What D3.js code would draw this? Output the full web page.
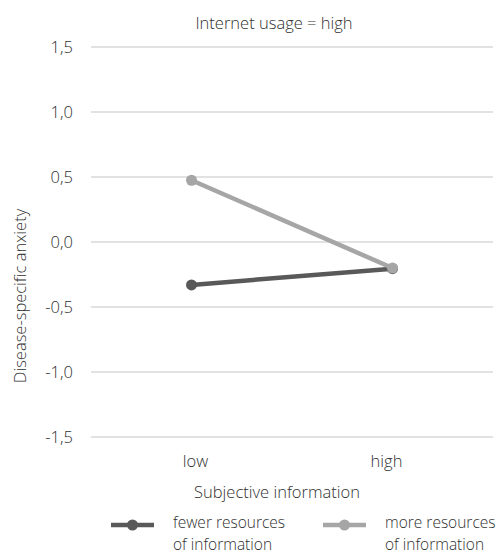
<!DOCTYPE html>
<html><head><meta charset="utf-8">
<script src="https://cdn.jsdelivr.net/npm/d3@7"></script>
<style>body{margin:0;background:#fff}text{font-family:"Open Sans",sans-serif;font-weight:300;fill:#303030}</style>
</head><body><svg id="c" width="504" height="556"></svg>
<script>
const categories = ["low","high"];
const seriesNames = ["fewer resources of information","more resources of information"];
const fewerValues = [-0.33,-0.205];
const moreValues = [0.475,-0.2];
const yTicks = [-1.5,-1.0,-0.5,0.0,0.5,1.0,1.5];
const colors = ["#595959","#a6a6a6"];

const svg = d3.select("#c");
const L=91,R=493,T=47,B=437;
const FS=16.5;
const x = d3.scalePoint().domain(categories).range([L,R]).padding(0.5);
const y = d3.scaleLinear().domain([-1.5,1.5]).range([B,T]);
const fmt = v => d3.format(".1f")(v).replace(".",",").replace("−","-");

svg.append("g").selectAll("line").data(yTicks).join("line")
  .attr("x1",L).attr("x2",R).attr("y1",d=>y(d)).attr("y2",d=>y(d))
  .attr("stroke","#d9d9d9").attr("stroke-width",1.3);
svg.append("g").selectAll("text").data(yTicks).join("text")
  .attr("x",73).attr("y",d=>y(d)+6).attr("text-anchor","end").attr("font-size",FS).text(fmt);

const labelShift=[4,-6];
svg.append("g").selectAll("text").data(categories).join("text")
  .attr("x",(d,i)=>x(d)+labelShift[i]).attr("y",467).attr("text-anchor","middle").attr("font-size",FS).text(d=>d);

svg.append("text").attr("x",274).attr("y",29).attr("text-anchor","middle").attr("font-size",FS).text("Internet usage = high");
svg.append("text").attr("x",277).attr("y",498).attr("text-anchor","middle").attr("font-size",FS).text("Subjective information");
svg.append("text").attr("transform",`translate(26,296) rotate(-90)`).attr("text-anchor","middle").attr("font-size",16.5).text("Disease-specific anxiety");

const series=[fewerValues,moreValues];
const line=d3.line().x((d,i)=>x(categories[i])).y(d=>y(d));
series.forEach((vals,si)=>{
  svg.append("path").datum(vals).attr("d",line).attr("fill","none").attr("stroke",colors[si]).attr("stroke-width",4.5);
  svg.append("g").selectAll("circle").data(vals).join("circle")
    .attr("cx",(d,i)=>x(categories[i])).attr("cy",d=>y(d)).attr("r",5.5).attr("fill",colors[si]);
});

const legX=[111,323];
const LFS=15.5;
seriesNames.forEach((n,i)=>{
  const g=svg.append("g");
  g.append("line").attr("x1",legX[i]).attr("x2",legX[i]+43).attr("y1",525).attr("y2",525).attr("stroke",colors[i]).attr("stroke-width",4.5);
  g.append("circle").attr("cx",legX[i]+21.5).attr("cy",525).attr("r",5.5).attr("fill",colors[i]);
  const words=n.split(" ");
  g.append("text").attr("x",legX[i]+62).attr("y",528).attr("font-size",LFS).text(words.slice(0,2).join(" "));
  g.append("text").attr("x",legX[i]+62).attr("y",550).attr("font-size",LFS).text(words.slice(2).join(" "));
});
</script></body></html>
